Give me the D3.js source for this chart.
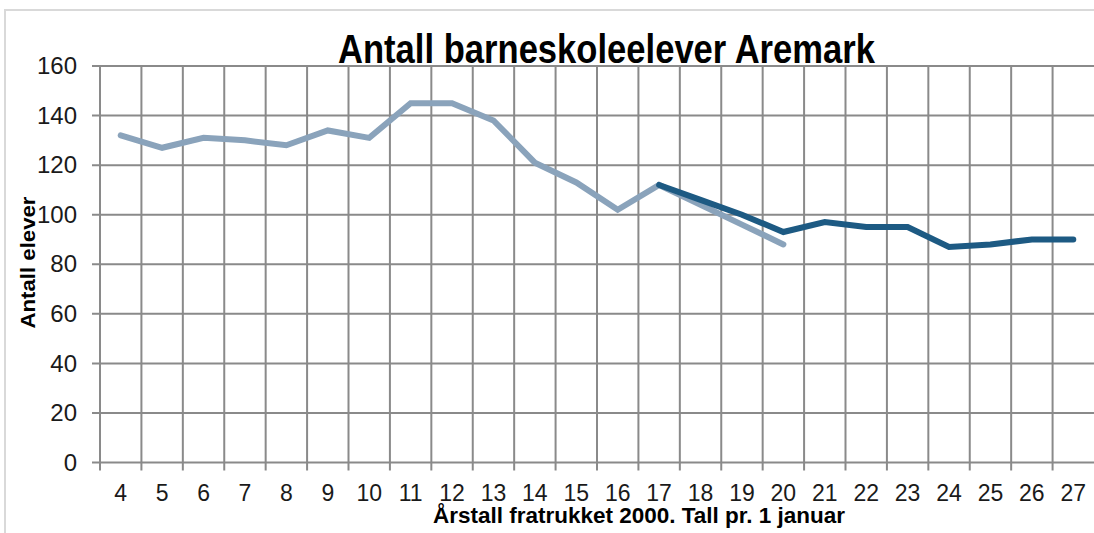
<!DOCTYPE html>
<html>
<head>
<meta charset="utf-8">
<script src="https://cdn.jsdelivr.net/npm/d3@7"></script>
<style>
    body { margin: 0; background: #ffffff; }
    svg { display: block; }
</style>
</head>
<body>
<div id="chart"></div>
<script>
/* Chart data */
var years = ["4","5","6","7","8","9","10","11","12","13","14","15","16","17","18","19","20","21","22","23","24","25","26","27"];
var registered = [132,127,131,130,128,134,131,145,145,138,121,113,102,112,104,96,88,null,null,null,null,null,null,null];
var forecast = [null,null,null,null,null,null,null,null,null,null,null,null,null,112,106,100,93,97,95,95,87,88,90,90];
var yTicks = [0,20,40,60,80,100,120,140,160];

var titleText = "Antall barneskoleelever Aremark";
var yTitleText = "Antall elever";
var xTitleText = "\u00c5rstall  fratrukket 2000. Tall pr. 1 januar";

function chart(selector)
{
    var width = 1094;   /* width of the svg canvas */
    var height = 533;   /* height of the svg canvas */
    var left = 100, right = 1094, top = 66, bottom = 462.5;
    var narrowFont = "'Liberation Sans Narrow', 'Arial Narrow', 'Liberation Sans', Arial, sans-serif";

    var theSVG = d3.select(selector)
        .append("svg")
        .attr("width", width)
        .attr("height", height)
    ;

    /* is the narrow font really there? if not we squeeze the normal one */
    var probe = theSVG.append("text").style("font-family", "'Liberation Sans Narrow'").style("font-size", "40px").text("0123456789");
    var w1 = probe.node().getComputedTextLength();
    probe.style("font-family", "'Liberation Sans'");
    var w2 = probe.node().getComputedTextLength();
    probe.remove();
    var squeeze = (w1 / w2 > 0.95) ? 0.85 : 1;

    function narrow(sel)
    {
        if (squeeze == 1) return;
        sel.each(function () {
            var len = this.getComputedTextLength();
            d3.select(this).attr("textLength", len * squeeze).attr("lengthAdjust", "spacingAndGlyphs");
        });
    }

    /* outer frame, only top and left are in the picture */
    theSVG.append("path")
        .attr("d", "M5," + height + "V10H" + width)
        .attr("fill", "none")
        .attr("stroke", "#d9d9d9")
        .attr("stroke-width", 2)
    ;

    var x = d3.scaleBand().domain(years).range([left, right]);
    var y = d3.scaleLinear().domain([0, 160]).range([bottom, top]);

    /* grid */
    var grid = theSVG.append("g").attr("class", "grid");
    grid.selectAll("line.h")
        .data(yTicks)
        .enter().append("line")
        .attr("class", "h")
        .attr("x1", left - 8).attr("x2", right)
        .attr("y1", function (d) { return y(d); })
        .attr("y2", function (d) { return y(d); })
    ;
    grid.selectAll("line.v")
        .data(years)
        .enter().append("line")
        .attr("class", "v")
        .attr("x1", function (d) { return x(d); })
        .attr("x2", function (d) { return x(d); })
        .attr("y1", top).attr("y2", bottom + 8)
    ;
    grid.selectAll("line")
        .attr("stroke", "#8a8a8a")
        .attr("stroke-width", 2)
    ;

    /* axes, only the labels are kept */
    var yAxis = theSVG.append("g")
        .attr("transform", "translate(" + left + ",0)")
        .call(d3.axisLeft(y).tickValues(yTicks).tickSize(8).tickPadding(15));
    yAxis.select(".domain").remove();
    yAxis.selectAll(".tick line").remove();
    yAxis.selectAll("text")
        .style("font-family", narrowFont)
        .style("font-size", "24px")
        .attr("fill", "#1a1a1a")
        .call(narrow)
    ;

    var xAxis = theSVG.append("g")
        .attr("transform", "translate(0," + bottom + ")")
        .call(d3.axisBottom(x).tickSize(0).tickPadding(22.5));
    xAxis.select(".domain").remove();
    xAxis.selectAll("text")
        .style("font-family", narrowFont)
        .style("font-size", "23px")
        .attr("fill", "#1a1a1a")
        .call(narrow)
    ;

    /* the two series, the forecast drawn on top */
    var line = d3.line()
        .defined(function (d) { return d.v != null; })
        .x(function (d) { return x(d.year) + x.bandwidth() / 2; })
        .y(function (d) { return y(d.v); })
    ;
    var series = [
        { values: registered, colour: "#8aa3bb" },
        { values: forecast, colour: "#1d5a83" }
    ];
    theSVG.selectAll("path.serie")
        .data(series)
        .enter().append("path")
        .attr("class", "serie")
        .attr("fill", "none")
        .attr("stroke", function (d) { return d.colour; })
        .attr("stroke-width", 6)
        .attr("stroke-linejoin", "miter")
        .attr("stroke-linecap", "round")
        .attr("d", function (d) {
            return line(years.map(function (yr, i) { return { year: yr, v: d.values[i] }; }));
        })
    ;

    /* titles */
    theSVG.append("text")
        .attr("x", 338).attr("y", 62.5)
        .style("font-family", narrowFont)
        .style("font-weight", "bold")
        .style("font-size", "40px")
        .attr("textLength", 537).attr("lengthAdjust", "spacingAndGlyphs")
        .text(titleText)
    ;
    theSVG.append("text")
        .attr("transform", "translate(35,262.5) rotate(-90)")
        .attr("text-anchor", "middle")
        .style("font-family", narrowFont)
        .style("font-weight", "bold")
        .style("font-size", "21px")
        .attr("textLength", 132).attr("lengthAdjust", "spacingAndGlyphs")
        .text(yTitleText)
    ;
    theSVG.append("text")
        .attr("x", 433).attr("y", 523)
        .style("font-family", narrowFont)
        .style("font-weight", "bold")
        .style("font-size", "21.5px")
        .attr("textLength", 412).attr("lengthAdjust", "spacingAndGlyphs")
        .text(xTitleText)
    ;
}

chart("#chart");
</script>
</body>
</html>
